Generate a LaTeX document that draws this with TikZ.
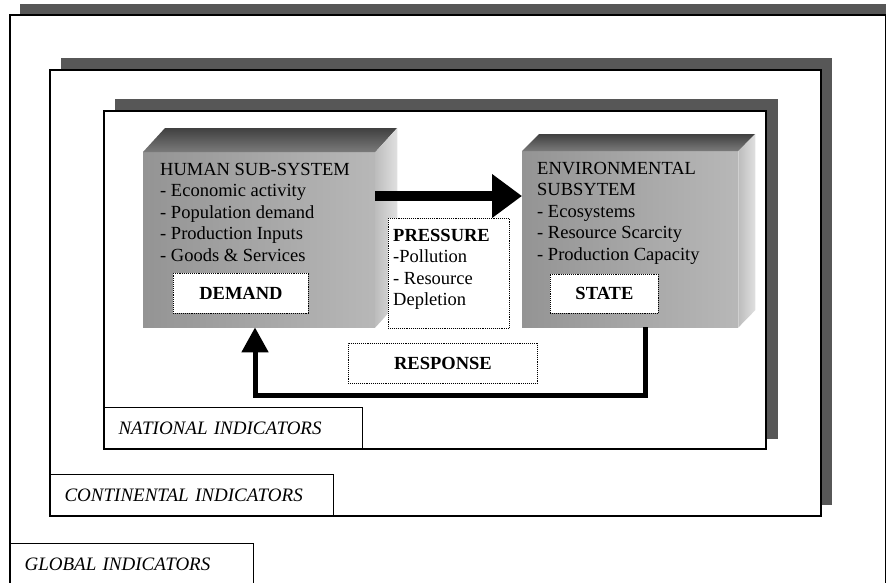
\documentclass[tikz,border=0pt]{standalone}
\usepackage{fontspec}
\setmainfont{Liberation Serif}
\usetikzlibrary{
	arrows.meta,									% 提供各种箭头样式
	calc,											% 坐标计算
	positioning,									% 节点的高级摆放
}

\begin{document}
\begin{tikzpicture}[x=1pt, y=-1pt,
		frame/.style={draw=black, fill=white, line width=1.2pt},
		shadow/.style={fill=black!66},
		lvllabel/.style={draw=black, fill=white, line width=1.1pt, inner xsep=14pt, align=left,
			minimum height=41pt, font=\itshape\fontsize{19}{21.5}\selectfont},
		cubefront/.style={draw=none, inner sep=0pt, left color=black!42, right color=black!28},
		cubetext/.style={inner sep=0pt, align=left, font=\fontsize{18.5}{21.5}\selectfont},
		dotbox/.style={draw=black, densely dotted, fill=white, line width=0.9pt, inner sep=0pt,
			font=\bfseries\fontsize{18.5}{21.5}\selectfont},
		bigarrow/.style={line width=10pt, -{Triangle[length=30pt, width=42pt]}},
		backarrow/.style={line width=5pt, -{Triangle[length=25pt, width=26pt]}},
	]
		\useasboundingbox (0,0) rectangle (886,582);
		\clip (0,0) rectangle (886,582);

		% frames
		\fill[shadow] (20,4) rectangle (900,620);
		\draw[frame] (10,15) rectangle (885.5,620);
		\fill[shadow] (61,58) rectangle (832,505);
		\draw[frame] (50,70) rectangle (821,516);
		\fill[shadow] (115,99) rectangle (778,439);
		\draw[frame] (104,111) rectangle (766,449);

		\node[lvllabel, text width=230pt, anchor=south west] (natlbl) at (104,449) {NATIONAL INDICATORS};
		\node[lvllabel, text width=255pt, anchor=south west] (contlbl) at (50,516) {CONTINENTAL INDICATORS};
		\node[lvllabel, text width=215pt, anchor=north west] (globlbl) at (10,543) {GLOBAL INDICATORS};

		% human cube
		\node[cubefront, minimum width=232pt, minimum height=175pt, anchor=north west] (human) at (143,152) {};
		\shade[top color=black!75, bottom color=black!52]
		(human.north west) -- ++(22,-24) -- ++(232,0) -- (human.north east) -- cycle;
		\shade[left color=black!26, right color=black!12]
		(human.north east) -- ++(22,-24) -- ++(0,175) -- (human.south east) -- cycle;
		\node[cubetext, anchor=north west] (humantxt) at ([shift={(17,11)}]human.north west)
		{HUMAN SUB-SYSTEM\\- Economic activity\\- Population demand\\- Production Inputs\\- Goods \& Services};
		\node[dotbox, minimum width=135pt, minimum height=40pt, anchor=south west] (demand)
		at ([shift={(30,-14)}]human.south west) {DEMAND};

		% environmental cube
		\node[cubefront, minimum width=216pt, minimum height=176pt, anchor=north west] (env) at (522,151) {};
		\shade[top color=black!75, bottom color=black!52]
		(env.north west) -- ++(17,-17) -- ++(216,0) -- (env.north east) -- cycle;
		\shade[left color=black!26, right color=black!12]
		(env.north east) -- ++(17,-17) -- ++(0,176) -- (env.south east) -- cycle;
		\node[cubetext, anchor=north west] (envtxt) at ([shift={(15,11)}]env.north west)
		{ENVIRONMENTAL\\SUBSYTEM\\- Ecosystems\\- Resource Scarcity\\- Production Capacity};
		\node[dotbox, minimum width=108pt, minimum height=39pt, anchor=south west] (state)
		at ([shift={(28,-14)}]env.south west) {STATE};

		% pressure / response
		\node[dotbox, minimum width=121pt, minimum height=110pt, anchor=north west] (press) at (388,218) {};
		\node[cubetext, anchor=north west] (presstxt) at ([shift={(5,11)}]press.north west)
		{\textbf{PRESSURE}\\-Pollution\\- Resource\\Depletion};
		\node[dotbox, minimum width=189pt, minimum height=40pt, below=14pt of press, xshift=-6pt] (resp) {RESPONSE};

		\coordinate (pstart) at ($(human.north east)+(0,44)$);
		\draw[bigarrow] (pstart) -- (pstart -| env.west);
		\draw[backarrow] ([xshift=123pt]env.south west) -- ++(0,68) -| ([xshift=112pt]human.south west);
	\end{tikzpicture}
\end{document}
